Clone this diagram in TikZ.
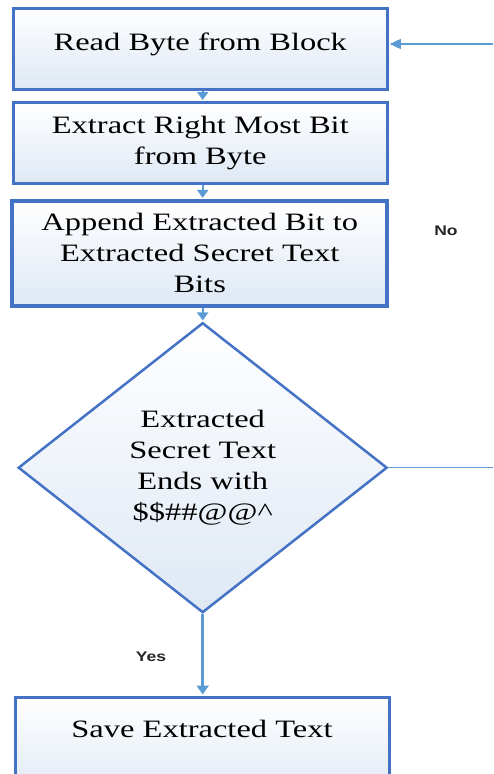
\documentclass[tikz,border=0pt]{standalone}
\usepackage{fontspec}
\setmainfont{Liberation Serif}[FakeStretch=1.3]
\newfontfamily\lblfont{Liberation Sans}[FakeStretch=1.25]
\usetikzlibrary{shapes.geometric,arrows.meta}
\definecolor{bord}{HTML}{4472C4}
\definecolor{arr}{HTML}{5B9BD5}
\definecolor{fillbot}{HTML}{DEE8F4}
\begin{document}
\begin{tikzpicture}[x=1pt,y=-1pt,
  box/.style={draw=bord, line width=3pt, top color=white, bottom color=fillbot,
    align=center, font=\fontsize{25}{31}\selectfont, inner sep=0pt},
  flow/.style={draw=arr, line width=2pt, -{Triangle[length=8pt,width=11pt]}, shorten >=1pt},
  thin/.style={draw=arr, line width=1.5pt},
  lbl/.style={font=\lblfont\bfseries\fontsize{14}{16}\selectfont, text=black!85}]
\useasboundingbox (0,0) rectangle (493,774);
\node[box, minimum width=374pt, minimum height=81pt, text height=17pt, text depth=14pt] (b1) at (200.3,48.6) {Read Byte from Block};
\node[box, minimum width=374pt, minimum height=81pt] (b2) at (200.3,143) {Extract Right Most Bit\\from Byte};
\node[box, line width=4pt, minimum width=375pt, minimum height=105pt] (b3) at (199.7,253.4) {Append Extracted Bit to\\Extracted Secret Text\\Bits};
\node[box, diamond, line width=2.5pt, minimum width=369pt, minimum height=290pt, aspect=1.27] (d) at (202.7,467.7) {Extracted\\Secret Text\\Ends with\\\$\$\#\#@@\^{}};
\node[box, minimum width=374pt, minimum height=103pt, text height=17pt, text depth=40pt] (b4) at (202,748.5) {Save Extracted Text};
\coordinate (r1) at (493,467.7);
\coordinate (r2) at (493,44);
\draw[flow] (b1.south -| d.north) -- (b2.north -| d.north);
\draw[flow] (b2.south -| d.north) -- (b3.north -| d.north);
\draw[flow] (b3.south -| d.north) -- (d.north);
\draw[flow, line width=3pt, -{Triangle[length=9pt,width=12pt]}] (d.south) -- (b4.north -| d.south);
\draw[thin] (d.east) -- (r1);
\draw[flow, line width=1.5pt, -{Triangle[length=11pt,width=10pt]}] (r2) -- (b1.east |- r2);
\node[lbl] (no) at (446,231) {No};
\node[lbl] (yes) at (151,657) {Yes};
\end{tikzpicture}
\end{document}
